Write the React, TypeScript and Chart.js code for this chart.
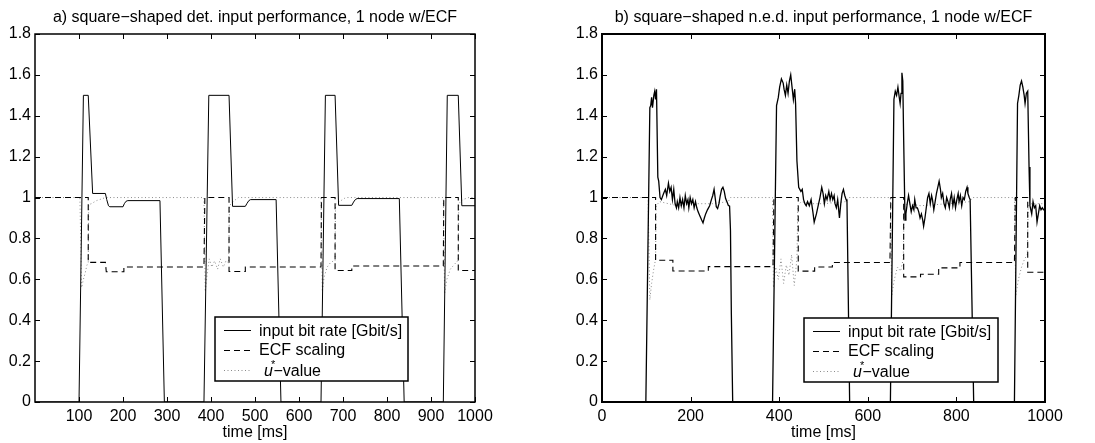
import React, { useEffect, useRef } from "react";
import { Chart, registerables } from "chart.js";

Chart.register(...registerables);

// ---------------- shared ----------------
const yTicks = [0, 0.2, 0.4, 0.6, 0.8, 1, 1.2, 1.4, 1.6, 1.8];
const xLabel = "time [ms]";
const legendLabels = ["input bit rate [Gbit/s]", "ECF scaling", "u*−value"];

// ---------------- panel a) ----------------
const titleA = "a) square−shaped det. input performance, 1 node w/ECF";
const xTicksA = [100, 200, 300, 400, 500, 600, 700, 800, 900, 1000];

const rateTimeA = [0, 100, 110, 121, 131, 160, 163, 167, 170, 200, 203, 207, 211, 284, 294,
  384, 395, 441, 449, 478, 482, 486, 490, 548, 559,
  650, 660, 682, 690, 720, 724, 728, 732, 828, 839,
  928, 937, 962, 970, 1000];
const rateA = [0, 0, 1.5, 1.5, 1.02, 1.02, 0.99, 0.96, 0.955, 0.955, 0.97, 0.982, 0.985, 0.985, 0,
  0, 1.5, 1.5, 0.957, 0.957, 0.972, 0.985, 0.99, 0.99, 0,
  0, 1.5, 1.5, 0.962, 0.962, 0.978, 0.99, 0.995, 0.995, 0,
  0, 1.5, 1.5, 0.96, 0.96];

const ecfTimeA = [0, 121, 121, 160, 162, 202, 202, 384, 386, 441, 441, 478, 478,
  650, 651, 682, 682, 720, 720, 928, 929, 962, 962, 1000];
const ecfA = [1, 1, 0.683, 0.683, 0.637, 0.637, 0.66, 0.66, 1, 1, 0.638, 0.638, 0.66,
  0.66, 1, 1, 0.643, 0.643, 0.665, 0.665, 1, 1, 0.643, 0.643];

const uTimeA = [0, 102, 106, 110, 114, 118, 121, 122, 128, 140, 160,
  384, 387, 391, 396, 402, 408, 415, 421, 428, 434, 440, 442, 450, 462,
  650, 653, 657, 664, 671, 678, 682, 683, 692, 706,
  928, 931, 936, 944, 952, 960, 962, 963, 972, 986, 1000];
const uA = [1, 1, 0.56, 0.6, 0.63, 0.67, 0.68, 0.965, 0.97, 0.985, 1,
  1, 0.54, 0.62, 0.7, 0.66, 0.69, 0.65, 0.7, 0.66, 0.69, 0.68, 0.96, 0.98, 1,
  1, 0.54, 0.61, 0.66, 0.68, 0.69, 0.69, 0.965, 0.98, 1,
  1, 0.53, 0.6, 0.65, 0.67, 0.69, 0.69, 0.97, 0.99, 1, 1];

// ---------------- panel b) ----------------
const titleB = "b) square−shaped n.e.d. input performance, 1 node w/ECF";
const xTicksB = [0, 200, 400, 600, 800, 1000];

const rateTimeB = [0, 99, 108, 110, 112, 114, 117, 119, 121, 123, 126, 128, 131,
  134, 139, 143, 146, 150, 153, 156, 159, 162, 165, 168, 170, 173, 176, 179, 182, 185, 188,
  191, 194, 196, 199, 202, 205, 208, 211, 214, 217, 221, 225, 228, 231, 234, 238, 243, 247,
  250, 253, 256, 258, 261, 264, 267, 270, 273, 276, 279, 282, 285, 288, 290, 292, 295,
  385, 394, 398, 401, 405, 409, 411, 414, 417, 420, 423, 426, 429, 432, 435, 437, 440,
  444, 449, 452, 455, 458, 461, 464, 468, 472, 476, 479, 484, 488, 492, 496, 499, 502,
  505, 508, 512, 515, 518, 521, 524, 526, 529, 532, 536, 539, 542, 545, 548, 551, 553, 556, 559,
  651, 659, 662, 665, 668, 671, 673, 675, 677, 679, 681, 684, 686, 689, 692, 695, 698, 701,
  704, 706, 709, 712, 715, 718, 721, 724, 726, 729, 732, 735, 738, 741, 744, 746, 749, 752,
  755, 758, 761, 764, 766, 769, 772, 775, 778, 781, 784, 786, 789, 792, 795, 798, 801, 804,
  806, 809, 812, 815, 818, 821, 824, 826, 829, 831, 835, 839,
  931, 938, 941, 944, 947, 950, 953, 955, 958, 961, 964, 966, 970, 973, 976, 979, 982, 985,
  988, 991, 994, 997, 1000];
const rateB = [0, 0, 1.44, 1.45, 1.49, 1.44, 1.5, 1.52, 1.48, 1.53, 1.1, 1.08, 1.0,
  0.99, 1.02, 1.04, 1.01, 1.07, 1.03, 1.05, 0.99, 1.04, 0.97, 0.95, 0.98, 0.95, 1.0, 0.96, 0.99, 0.95, 1.01,
  0.97, 0.99, 0.95, 1.0, 0.97, 0.99, 0.95, 0.98, 0.95, 0.93, 0.91, 0.89, 0.876, 0.9, 0.92, 0.94, 0.96, 0.99,
  1.01, 1.04, 0.99, 0.955, 0.946, 0.97, 1.01, 1.04, 1.05, 1.03, 0.995, 0.98, 0.962, 0.958, 0.84, 0.43, 0,
  0, 1.45, 1.49, 1.54, 1.58, 1.56, 1.53, 1.5, 1.55, 1.51, 1.57, 1.6, 1.54, 1.48, 1.53, 1.46, 1.18,
  1.05, 1.03, 1.04, 0.99, 0.97, 0.96, 0.98, 0.96, 0.99, 0.93, 0.88, 0.92, 0.96, 1.0, 1.05, 1.02, 0.97,
  1.01, 0.99, 1.03, 0.99, 1.02, 0.99, 1.01, 0.97, 0.95, 0.99, 0.9, 0.97, 1.02, 1.04, 1.01, 0.99, 0.98, 0.5, 0,
  0, 1.48, 1.52, 1.5, 1.54, 1.49, 1.46, 1.51, 1.61, 1.57, 1.28, 0.89, 0.92, 0.97, 1.01, 0.97, 0.93, 0.96,
  0.94, 0.99, 0.95, 0.95, 0.93, 0.9, 0.92, 0.89, 0.86, 0.9, 0.95, 1.0, 1.02, 0.97, 1.01, 0.99, 0.94, 0.98,
  1.02, 1.05, 1.08, 1.04, 1.0, 1.02, 0.97, 0.95, 1.0, 0.98, 0.95, 0.99, 1.02, 0.96, 1.0, 0.95, 0.99, 1.02,
  0.98, 1.01, 0.96, 1.0, 0.99, 1.03, 1.05, 1.02, 1.0, 0.99, 0.5, 0,
  0, 1.46, 1.5, 1.55, 1.57, 1.54, 1.5, 1.46, 1.51, 1.52, 1.15, 0.96, 0.92, 0.98, 0.95, 0.96, 0.88, 0.92,
  0.96, 0.94, 0.95, 0.94, 0.94];

const ecfTimeB = [0, 121, 121, 160, 160, 240, 240, 386, 388, 443, 443, 480, 480, 520, 520,
  650, 652, 681, 681, 719, 719, 760, 760, 808, 808, 931, 933, 961, 961, 1000];
const ecfB = [1, 1, 0.693, 0.693, 0.641, 0.641, 0.662, 0.662, 1, 1, 0.64, 0.64, 0.66, 0.66, 0.682,
  0.682, 1, 1, 0.612, 0.612, 0.625, 0.625, 0.656, 0.656, 0.682, 0.682, 1, 1, 0.635, 0.635];

const uTimeB = [0, 104, 108, 112, 116, 121, 122, 130, 150, 170, 200, 250, 285, 290,
  385, 387, 392, 398, 404, 410, 416, 422, 428, 434, 440, 442, 450, 470, 500, 550, 556,
  651, 654, 660, 667, 674, 680, 682, 690, 720, 780, 830, 836,
  931, 934, 940, 947, 954, 960, 962, 970, 1000];
const uB = [1, 1, 0.5, 0.58, 0.64, 0.7, 0.96, 0.98, 0.97, 0.96, 0.97, 0.97, 0.98, 1,
  1, 0.56, 0.66, 0.6, 0.7, 0.58, 0.67, 0.62, 0.72, 0.57, 0.7, 0.96, 0.98, 0.97, 0.97, 0.98, 1,
  1, 0.52, 0.6, 0.66, 0.64, 0.7, 0.96, 0.97, 0.96, 0.97, 0.98, 1,
  1, 0.52, 0.6, 0.66, 0.7, 0.72, 0.96, 0.97, 0.97];

// ---------------- helpers ----------------
const FONT = '"Liberation Sans", Arial, Helvetica, sans-serif';
const pts = (t: number[], v: number[]) => t.map((x, i) => ({ x, y: v[i] }));

type PanelCfg = {
  title: string;
  xTicks: number[];
  rateT: number[]; rate: number[];
  ecfT: number[]; ecf: number[];
  uT: number[]; u: number[];
  canvasLeft: number; canvasWidth: number;
  padLeft: number; padRight: number;
  frameWidth: number; rateWidth: number;
  legendX: number; legendY: number; legendW: number; legendH: number;
};

const panels: PanelCfg[] = [
  {
    title: titleA, xTicks: xTicksA,
    rateT: rateTimeA, rate: rateA, ecfT: ecfTimeA, ecf: ecfA, uT: uTimeA, u: uA,
    canvasLeft: 0, canvasWidth: 547, padLeft: 0, padRight: 72,
    frameWidth: 1.5, rateWidth: 1,
    legendX: 180, legendY: 317, legendW: 193, legendH: 64,
  },
  {
    title: titleB, xTicks: xTicksB,
    rateT: rateTimeB, rate: rateB, ecfT: ecfTimeB, ecf: ecfB, uT: uTimeB, u: uB,
    canvasLeft: 547, canvasWidth: 548, padLeft: 20, padRight: 50,
    frameWidth: 2, rateWidth: 1.3,
    legendX: 202, legendY: 318, legendW: 194, legendH: 64,
  },
];

const decorPlugin = {
  id: "decor",
  afterDatasetsDraw(chart: any, _args: any, opts: any) {
    const { ctx, chartArea: a, scales } = chart;
    const xs = scales.x, ys = scales.y;
    ctx.save();
    // frame
    ctx.strokeStyle = "#000";
    ctx.lineWidth = opts.frameWidth;
    ctx.strokeRect(a.left, a.top, a.right - a.left, a.bottom - a.top);
    // inward ticks
    ctx.lineWidth = 1;
    ctx.beginPath();
    for (const v of opts.xTicks) {
      const px = Math.round(xs.getPixelForValue(v)) + 0.5;
      ctx.moveTo(px, a.bottom); ctx.lineTo(px, a.bottom - 5);
      ctx.moveTo(px, a.top); ctx.lineTo(px, a.top + 5);
    }
    for (const v of yTicks) {
      const py = Math.round(ys.getPixelForValue(v)) + 0.5;
      ctx.moveTo(a.left, py); ctx.lineTo(a.left + 5, py);
      ctx.moveTo(a.right, py); ctx.lineTo(a.right - 5, py);
    }
    ctx.stroke();
    // title
    ctx.fillStyle = "#000";
    ctx.font = `16px ${FONT}`;
    ctx.textAlign = "center";
    ctx.textBaseline = "alphabetic";
    ctx.fillText(opts.title, (a.left + a.right) / 2, 22);
    // legend box
    const lx = a.left + opts.legendX, ly = opts.legendY, lw = opts.legendW, lh = opts.legendH;
    ctx.fillStyle = "#fff";
    ctx.fillRect(lx, ly, lw, lh);
    ctx.strokeStyle = "#000";
    ctx.lineWidth = 1.5;
    ctx.strokeRect(lx, ly, lw, lh);
    const sampleY = [ly + 13, ly + 33, ly + 53];
    const baseY = [ly + 18.5, ly + 37.5, ly + 58.5];
    const styles = [
      { c: "#000", d: [] as number[], w: 1 },
      { c: "#000", d: [6, 4], w: 1 },
      { c: "#8a8a8a", d: [1, 2.5], w: 1 },
    ];
    styles.forEach((s, i) => {
      ctx.beginPath();
      ctx.strokeStyle = s.c;
      ctx.lineWidth = s.w;
      ctx.setLineDash(s.d);
      ctx.moveTo(lx + 9, sampleY[i] + 0.5);
      ctx.lineTo(lx + 36, sampleY[i] + 0.5);
      ctx.stroke();
    });
    ctx.setLineDash([]);
    ctx.fillStyle = "#000";
    ctx.textAlign = "left";
    ctx.font = `16px ${FONT}`;
    ctx.fillText(legendLabels[0], lx + 44, baseY[0]);
    ctx.fillText(legendLabels[1], lx + 44, baseY[1]);
    // u*-value with italic u and superscript *
    const parts = legendLabels[2].split("*");
    const tx = lx + 49;
    ctx.font = `italic 16px ${FONT}`;
    ctx.fillText(parts[0], tx, baseY[2]);
    const uw = ctx.measureText(parts[0]).width;
    ctx.font = `11px ${FONT}`;
    ctx.fillText("*", tx + uw - 2, baseY[2] - 8);
    ctx.font = `16px ${FONT}`;
    ctx.fillText(parts[1], tx + uw + 0.5, baseY[2]);
    ctx.restore();
  },
};

function Panel({ cfg }: { cfg: PanelCfg }) {
  const ref = useRef<HTMLCanvasElement | null>(null);
  useEffect(() => {
    if (!ref.current) return;
    const chart = new Chart(ref.current, {
      type: "line",
      data: {
        datasets: [
          {
            label: legendLabels[0],
            data: pts(cfg.rateT, cfg.rate),
            borderColor: "#000",
            borderWidth: cfg.rateWidth,
            pointRadius: 0,
            tension: 0,
            order: 0,
          },
          {
            label: legendLabels[1],
            data: pts(cfg.ecfT, cfg.ecf),
            borderColor: "#000",
            borderWidth: 1.1,
            borderDash: [6, 4],
            pointRadius: 0,
            tension: 0,
            order: 1,
          },
          {
            label: legendLabels[2],
            data: pts(cfg.uT, cfg.u),
            borderColor: "#8a8a8a",
            borderWidth: 1,
            borderDash: [1, 2.5],
            pointRadius: 0,
            tension: 0,
            order: 2,
          },
        ],
      },
      options: {
        animation: false,
        responsive: false,
        events: [],
        layout: { padding: { left: cfg.padLeft, right: cfg.padRight, top: 34, bottom: 0 } },
        scales: {
          x: {
            type: "linear",
            min: 0,
            max: 1000,
            afterBuildTicks: (s: any) => { s.ticks = cfg.xTicks.map((value) => ({ value })); },
            afterFit: (s: any) => { s.height = 41; },
            grid: { display: false, drawTicks: false },
            border: { display: false },
            ticks: {
              autoSkip: false,
              maxRotation: 0,
              padding: 5,
              color: "#000",
              font: { family: FONT, size: 16 },
              callback: (v: any) => String(v),
            },
            title: {
              display: true,
              text: xLabel,
              color: "#000",
              font: { family: FONT, size: 16 },
              padding: { top: 0, bottom: 1 },
            },
          },
          y: {
            type: "linear",
            min: 0,
            max: 1.8,
            afterBuildTicks: (s: any) => { s.ticks = yTicks.map((value) => ({ value })); },
            afterFit: (s: any) => { s.width = 35; },
            grid: { display: false, drawTicks: false },
            border: { display: false },
            ticks: {
              padding: 4,
              color: "#000",
              font: { family: FONT, size: 16 },
              callback: (v: any) => String(Math.round(Number(v) * 10) / 10),
            },
          },
        },
        plugins: {
          legend: { display: false },
          title: { display: false },
          tooltip: { enabled: false },
          decor: {
            title: cfg.title,
            xTicks: cfg.xTicks,
            frameWidth: cfg.frameWidth,
            legendX: cfg.legendX,
            legendY: cfg.legendY,
            legendW: cfg.legendW,
            legendH: cfg.legendH,
          },
        } as any,
      },
      plugins: [decorPlugin],
    } as any);
    return () => chart.destroy();
  }, [cfg]);
  return (
    <canvas
      ref={ref}
      width={cfg.canvasWidth}
      height={443}
      style={{ position: "absolute", left: cfg.canvasLeft, top: 0, width: cfg.canvasWidth, height: 443 }}
    />
  );
}

export default function App() {
  return (
    <div style={{ position: "absolute", left: 0, top: 0, width: 1095, height: 443, background: "#fff" }}>
      {panels.map((p, i) => (
        <Panel key={i} cfg={p} />
      ))}
    </div>
  );
}
